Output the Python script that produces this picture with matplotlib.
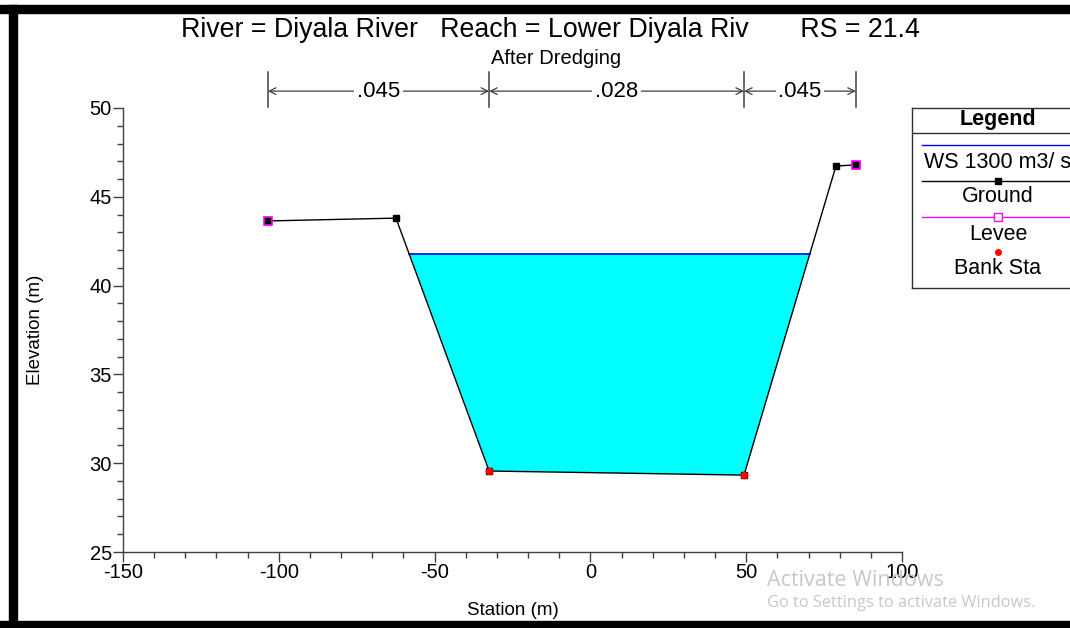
import numpy as np
import matplotlib.pyplot as plt
from matplotlib.patches import Rectangle
from matplotlib.ticker import MultipleLocator

plt.rcParams['font.family'] = ['Liberation Sans', 'DejaVu Sans']
plt.rcParams['axes.unicode_minus'] = False

# cross-section geometry (station m, elevation m)
station = [-103.5, -62.4, -32.5, 49.3, 78.8, 85.2]
ground = [43.64, 43.80, 29.56, 29.33, 46.73, 46.80]
levee_sta = [-103.5, 85.2]
levee_elev = [43.64, 46.80]
bank_sta = [-32.5, 49.3]
bank_elev = [29.56, 29.33]
ws_elev = 41.8
ws_label = 'WS 1300 m3/ s'

# Manning's n regions
n_edges = [-103.5, -32.5, 49.3, 85.2]
n_values = ['.045', '.028', '.045']

title = 'River = Diyala River   Reach = Lower Diyala Riv       RS = 21.4'
subtitle = 'After Dredging'

fig = plt.figure(figsize=(10.7, 6.28), dpi=100)
ax = fig.add_axes([123/1070, 76/628, 779/1070, 444/628])

sta = np.array(station)
z = np.array(ground)

# water surface limits where it meets the ground
wet = z < ws_elev
i0 = np.argmax(wet)
i1 = len(z) - 1 - np.argmax(wet[::-1])
x_left = np.interp(ws_elev, [z[i0], z[i0 - 1]], [sta[i0], sta[i0 - 1]])
x_right = np.interp(ws_elev, [z[i1], z[i1 + 1]], [sta[i1], sta[i1 + 1]])

poly_x = [x_left] + list(sta[wet]) + [x_right]
poly_z = [ws_elev] + list(z[wet]) + [ws_elev]
ax.fill(poly_x, poly_z, color='#00ffff', lw=0, zorder=1)
ax.plot([x_left, x_right], [ws_elev, ws_elev], color='#0000ff', lw=1.2, zorder=2)

ax.plot(sta, z, color='black', lw=1, marker='s', ms=4, zorder=3)
ax.plot(levee_sta, levee_elev, ls='none', marker='s', ms=6, mfc='black',
        mec='#ff00ff', mew=1.2, zorder=4)
ax.plot(bank_sta, bank_elev, ls='none', marker='o', ms=4.5, color='red', zorder=5)

ax.set_xlim(-150, 100)
ax.set_ylim(25, 50)
ax.xaxis.set_major_locator(MultipleLocator(50))
ax.xaxis.set_minor_locator(MultipleLocator(10))
ax.yaxis.set_major_locator(MultipleLocator(5))
ax.yaxis.set_minor_locator(MultipleLocator(1))
for s in ['top', 'right']:
    ax.spines[s].set_visible(False)
for s in ['left', 'bottom']:
    ax.spines[s].set_color('#404040')
    ax.spines[s].set_linewidth(1)
ax.tick_params(which='major', length=7, width=1, color='#404040', labelsize=14.5, pad=1)
ax.tick_params(which='minor', length=4, width=1, color='#404040')
ax.set_xlabel('Station (m)', fontsize=13.5, labelpad=14)
ax.set_ylabel('Elevation (m)', fontsize=13.5, labelpad=33)

# Manning's n dimension lines above the plot
tr = ax.get_xaxis_transform()
for e in n_edges:
    ax.plot([e, e], [1.002, 1.081], transform=tr, color='#404040', lw=1.1, clip_on=False)
for k, n in enumerate(n_values):
    a, b = n_edges[k], n_edges[k + 1]
    ax.annotate('', xy=(a, 1.038), xytext=(b, 1.038), xycoords=tr, textcoords=tr,
                arrowprops=dict(arrowstyle='<->', color='#404040', lw=0.9,
                                shrinkA=0, shrinkB=0, mutation_scale=12))
    ax.text((a + b) / 2, 1.038, n, transform=tr, ha='center', va='center',
            fontsize=16, bbox=dict(fc='white', ec='none', pad=2))

fig.text(550/1070, 1 - 30/628, title, ha='center', va='center', fontsize=19.3)
fig.text(556/1070, 1 - 58/628, subtitle, ha='center', va='center', fontsize=14.5)

# legend panel
lg = fig.add_axes([912/1070, 340/628, 172/1070, 180/628])
lg.set_xlim(0, 172)
lg.set_ylim(180, 0)
lg.set_xticks([])
lg.set_yticks([])
for s in lg.spines.values():
    s.set_color('#303030')
    s.set_linewidth(1)
lg.text(86, 12, 'Legend', ha='center', va='center', fontsize=15.5, fontweight='bold')
lg.axhline(25, color='#303030', lw=1)
lg.plot([10, 172], [37, 37], color='#0000ff', lw=1)
lg.text(86, 54, ws_label, ha='center', va='center', fontsize=15.5)
lg.plot([10, 172], [73, 73], color='black', lw=1)
lg.plot([86], [73], marker='s', ms=4, color='black')
lg.text(86, 89, 'Ground', ha='center', va='center', fontsize=15.5)
lg.plot([10, 172], [109, 109], color='#ff00ff', lw=1)
lg.plot([86], [109], marker='s', ms=6, mfc='white', mec='#ff00ff', mew=1)
lg.text(86, 126, 'Levee', ha='center', va='center', fontsize=15.5)
lg.plot([86], [144], marker='o', ms=4, color='red')
lg.text(86, 161, 'Bank Sta', ha='center', va='center', fontsize=15.5)

fig.text(767/1070, 1 - 581/628, 'Activate Windows', ha='left', va='center',
         fontsize=15.5, color='#c8c8c8', family=['Open Sans', 'DejaVu Sans'])
fig.text(767/1070, 1 - 603/628, 'Go to Settings to activate Windows.', ha='left',
         va='center', fontsize=11.8, color='#c8c8c8', family=['Open Sans', 'DejaVu Sans'])

# window frame
fig.patches.append(Rectangle((0, 1 - 13/628), 1, 8/628, transform=fig.transFigure,
                             color='black', zorder=10))
fig.patches.append(Rectangle((9/1070, 0), 8/1070, 1 - 5/628, transform=fig.transFigure,
                             color='black', zorder=10))
fig.patches.append(Rectangle((0, 0), 1, 7/628, transform=fig.transFigure,
                             color='black', zorder=10))

fig.savefig('out.png', dpi=100)
